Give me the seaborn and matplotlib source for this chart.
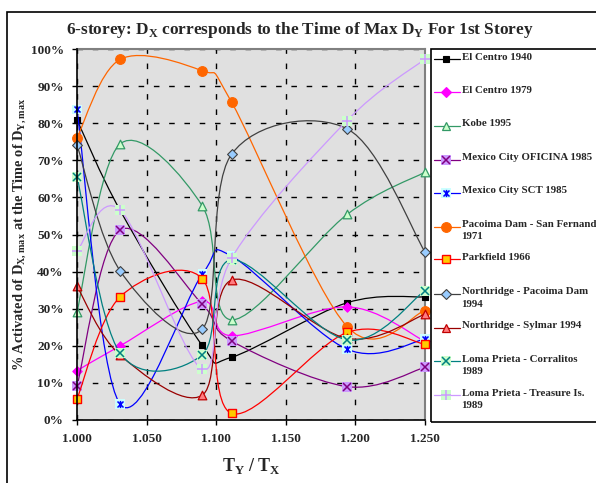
import numpy as np
import pandas as pd
import matplotlib
matplotlib.use("Agg")
import matplotlib.pyplot as plt
import seaborn as sns
from matplotlib.path import Path
from matplotlib.patches import PathPatch, Rectangle
from matplotlib.lines import Line2D
from matplotlib.ticker import FuncFormatter

# ---------------- data ----------------
ratio = [1.000, 1.031, 1.090, 1.111, 1.194, 1.250]

el_centro_1940 = [80.9, 56.5, 20.1, 16.9, 31.6, 33.2]
el_centro_1979 = [13.3, 20.0, 32.0, 22.7, 30.5, 21.2]
kobe_1995 = [29.2, 74.4, 57.7, 27.0, 55.4, 66.8]
mexico_oficina = [9.2, 51.2, 31.2, 21.3, 9.0, 14.2]
mexico_sct = [83.7, 4.3, 39.3, 44.2, 19.1, 21.8]
pacoima_sf = [76.1, 97.2, 94.1, 85.7, 25.2, 29.5]
parkfield = [5.7, 33.2, 38.1, 1.8, 23.6, 20.4]
northridge_pd = [74.1, 40.2, 24.5, 71.6, 78.5, 45.3]
northridge_sylmar = [36.0, 17.5, 6.7, 37.7, 22.0, 28.5]
loma_corralitos = [65.6, 18.0, 17.6, 43.2, 21.6, 34.9]
loma_treasure = [45.5, 56.6, 13.7, 43.6, 80.7, 97.3]

labels = [
    "El Centro 1940",
    "El Centro 1979",
    "Kobe 1995",
    "Mexico City OFICINA 1985",
    "Mexico City SCT 1985",
    "Pacoima Dam - San Fernando\n1971",
    "Parkfield 1966",
    "Northridge - Pacoima Dam\n1994",
    "Northridge - Sylmar 1994",
    "Loma Prieta - Corralitos\n1989",
    "Loma Prieta - Treasure Is.\n1989",
]
values = [el_centro_1940, el_centro_1979, kobe_1995, mexico_oficina, mexico_sct,
          pacoima_sf, parkfield, northridge_pd, northridge_sylmar,
          loma_corralitos, loma_treasure]

xtick_vals = [1.000, 1.050, 1.100, 1.150, 1.200, 1.250]
ytick_vals = [0, 10, 20, 30, 40, 50, 60, 70, 80, 90, 100]

# asterisk marker (x plus vertical bar), like Excel's "*"
ast = Path([(-1, -1), (1, 1), (-1, 1), (1, -1), (0, -1.2), (0, 1.2)],
           [Path.MOVETO, Path.LINETO, Path.MOVETO, Path.LINETO, Path.MOVETO, Path.LINETO])

# style per series: line colour, list of marker layers
# each layer: (marker, size_pt, face, edge, edgewidth)
styles = [
    ("#000000", [("s", 5.0, "#000000", "#000000", 0.8)]),
    ("#FF00FF", [("D", 4.8, "#FF00FF", "#FF00FF", 0.8)]),
    ("#339966", [("^", 6.2, "#CCFFCC", "#339966", 0.9)]),
    ("#800080", [("s", 7.2, "#CC99FF", "none", 0.0), ("x", 6.0, "none", "#800080", 1.1)]),
    ("#0000FF", [("s", 6.8, "#CCFFFF", "none", 0.0), (ast, 5.2, "none", "#0000FF", 1.1)]),
    ("#FF6600", [("o", 7.0, "#FF6600", "#FF6600", 0.8)]),
    ("#FF0000", [("s", 6.0, "#FFCC00", "#FF0000", 1.0)]),
    ("#404040", [("D", 5.0, "#99CCFF", "#404040", 0.8)]),
    ("#990000", [("^", 6.2, "#FF7C80", "#C00000", 0.9)]),
    ("#008080", [("s", 7.2, "#CCFFCC", "none", 0.0), ("x", 6.0, "none", "#008080", 1.1)]),
    ("#CC99FF", [("s", 7.2, "#CCFFCC", "none", 0.0), ("+", 7.0, "none", "#CC99FF", 1.1)]),
]


def smooth_path(xs, ys):
    """Excel-like smoothed line: Catmull-Rom as cubic Bezier segments."""
    p = np.column_stack([xs, ys]).astype(float)
    n = len(p)
    verts = [tuple(p[0])]
    codes = [Path.MOVETO]
    for i in range(n - 1):
        p0 = p[i - 1] if i > 0 else p[i]
        p1 = p[i]
        p2 = p[i + 1]
        p3 = p[i + 2] if i + 2 < n else p[i + 1]
        c1 = p1 + (p2 - p0) / 6.0
        c2 = p2 - (p3 - p1) / 6.0
        verts += [tuple(c1), tuple(c2), tuple(p2)]
        codes += [Path.CURVE4] * 3
    return Path(verts, codes)


sns.set_theme(style="white")
plt.rcParams["font.family"] = ["Liberation Serif", "DejaVu Serif"]
plt.rcParams["font.weight"] = "bold"

W, H = 596, 483
fig = plt.figure(figsize=(W / 100, H / 100), dpi=100)
fig.patch.set_facecolor("white")

ax_l, ax_r, ax_t, ax_b = 77, 425, 49, 420
ax = fig.add_axes([ax_l / W, 1 - ax_b / H, (ax_r - ax_l) / W, (ax_b - ax_t) / H])
ax.set_facecolor("#E0E0E0")

for i, (vals, (lc, layers)) in enumerate(zip(values, styles)):
    z = 3 + 2 * i
    patch = PathPatch(smooth_path(ratio, vals), facecolor="none", edgecolor=lc,
                      lw=0.9, zorder=z)
    ax.add_patch(patch)
    df = pd.DataFrame({"ratio": ratio, "pct": vals})
    for k, (m, ms, fc, ec, ew) in enumerate(layers):
        if k == 0 and isinstance(m, str) and m in ("s", "D", "^", "o"):
            sns.scatterplot(data=df, x="ratio", y="pct", ax=ax, marker=m, s=ms ** 2,
                            color=fc, edgecolor=ec, linewidth=ew, zorder=z + 1,
                            legend=False, clip_on=False)
        else:
            ax.plot(ratio, vals, linestyle="none", marker=m, markersize=ms,
                    markerfacecolor=fc, markeredgecolor=ec, markeredgewidth=ew,
                    zorder=z + 1.5, clip_on=False)

ax.set_xlim(1.0, 1.25)
ax.set_ylim(0, 100)
ax.set_xticks(xtick_vals)
ax.set_yticks(ytick_vals)
ax.xaxis.set_major_formatter(FuncFormatter(lambda v, p: f"{v:.3f}"))
ax.yaxis.set_major_formatter(FuncFormatter(lambda v, p: f"{v:.0f}%"))
ax.set_axisbelow(True)
ax.grid(True, color="black", linestyle=(0, (4, 7)), linewidth=1.0)
ax.tick_params(axis="both", which="major", direction="out", length=3.5, width=1.0,
               color="black", labelsize=9.5, pad=6, bottom=True, left=True)
for lab in ax.get_xticklabels() + ax.get_yticklabels():
    lab.set_fontweight("bold")
ax.set_xlabel("")
ax.set_ylabel("")
for s in ("left", "bottom"):
    ax.spines[s].set_color("black")
    ax.spines[s].set_linewidth(1.2)
    ax.spines[s].set_zorder(40)
for s in ("top", "right"):
    ax.spines[s].set_color("#808080")
    ax.spines[s].set_linewidth(1.5)


def fx(x):
    return x / W


def fy(y):
    return 1 - y / H


# title and axis labels
fig.text(fx(300), fy(30),
         r"6-storey: D$_\mathregular{X}$ corresponds to the Time of Max D$_\mathregular{Y}$ For 1st Storey",
         ha="center", va="center", fontsize=12.4, fontweight="bold")
fig.text(fx(251), fy(466), r"T$_\mathregular{Y}$ / T$_\mathregular{X}$",
         ha="center", va="center", fontsize=13, fontweight="bold")
fig.text(fx(20), fy(234), r"% Activated of D$_\mathregular{X,max}$ at the Time of D$_\mathregular{Y,max}$",
         ha="center", va="center", rotation=90, fontsize=10.4, fontweight="bold")

# outer frame (right/bottom edges fall outside the canvas)
fig.add_artist(Rectangle((fx(7), fy(492)), (605 - 7) / W, (492 - 12) / H,
                         transform=fig.transFigure, fill=False, edgecolor="black",
                         lw=1.2, zorder=0))

# legend box
fig.add_artist(Rectangle((fx(431), fy(421.5)), (610 - 431) / W, (421.5 - 48.7) / H,
                         transform=fig.transFigure, fill=False, edgecolor="black",
                         lw=1.2, zorder=5))
leg_y = [59, 92.3, 126, 160, 192.7, 226.7, 259.3, 294, 327.7, 361, 395]
for yy, lab, (lc, layers) in zip(leg_y, labels, styles):
    fig.add_artist(Line2D([fx(434), fx(460)], [fy(yy), fy(yy)], color=lc, lw=0.9,
                          transform=fig.transFigure, zorder=6))
    for (m, ms, fc, ec, ew) in layers:
        fig.add_artist(Line2D([fx(446)], [fy(yy)], linestyle="none", marker=m,
                              markersize=ms, markerfacecolor=fc, markeredgecolor=ec,
                              markeredgewidth=ew, transform=fig.transFigure, zorder=7))
    fig.text(fx(461.5), fy(yy - 6.5), lab, ha="left", va="top", fontsize=7.8,
             fontweight="bold", linespacing=1.45)

fig.savefig("out.png", dpi=100)
